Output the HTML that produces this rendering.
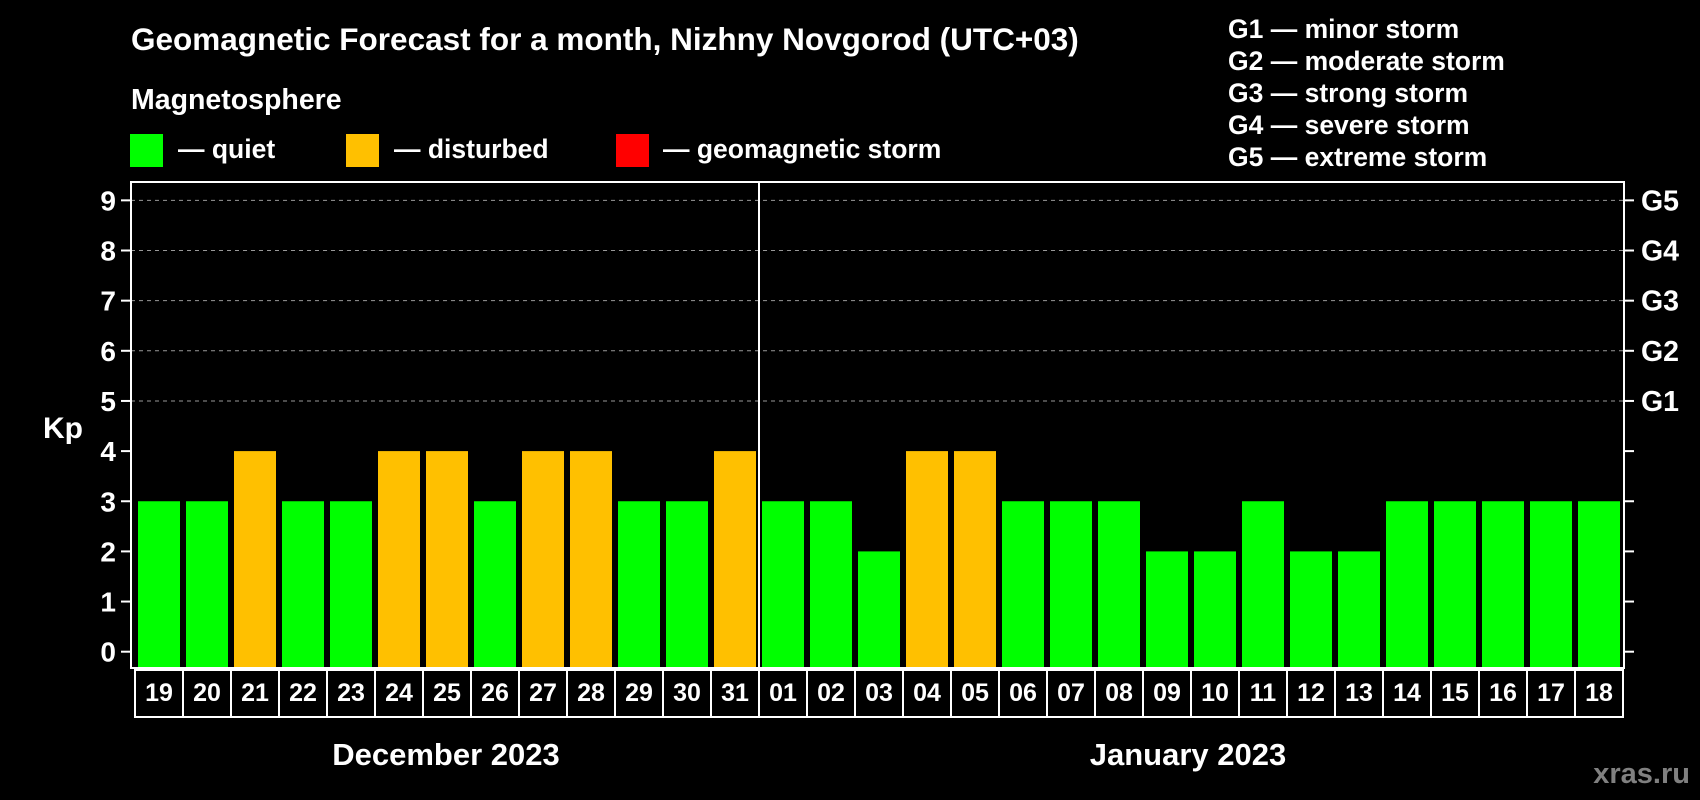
<!DOCTYPE html>
<html><head><meta charset="utf-8"><style>
body{margin:0;background:#000;}
svg{display:block;font-family:"Liberation Sans",Arial,sans-serif;font-weight:bold;}
</style></head><body>
<svg id="chart" width="1700" height="800" viewBox="0 0 1700 800">
<rect width="1700" height="800" fill="#000"/>
<text x="131" y="50" font-size="31.5" fill="#fff">Geomagnetic Forecast for a month, Nizhny Novgorod (UTC+03)</text>
<text x="131" y="109" font-size="28.5" fill="#fff">Magnetosphere</text>
<g><rect x="130" y="134" width="33" height="33" fill="#00ff00"/><text x="178" y="158" font-size="26.5" fill="#fff">— quiet</text></g>
<g><rect x="346" y="134" width="33" height="33" fill="#ffc000"/><text x="394" y="158" font-size="26.5" fill="#fff">— disturbed</text></g>
<g><rect x="616" y="134" width="33" height="33" fill="#ff0000"/><text x="663" y="158" font-size="26.5" fill="#fff">— geomagnetic storm</text></g>
<g font-size="26.5" fill="#fff">
<text x="1228" y="38">G1 — minor storm</text>
<text x="1228" y="70">G2 — moderate storm</text>
<text x="1228" y="102">G3 — strong storm</text>
<text x="1228" y="134">G4 — severe storm</text>
<text x="1228" y="166">G5 — extreme storm</text>
</g>
<text x="43" y="438" font-size="30" fill="#fff">Kp</text>
<g id="grid"></g><g id="bars"></g><g id="axes"></g>
<text x="446" y="765" font-size="31" fill="#fff" text-anchor="middle">December 2023</text>
<text x="1188" y="765" font-size="31" fill="#fff" text-anchor="middle">January 2023</text>
<text x="1690" y="783" font-size="29" fill="#808080" text-anchor="end">xras.ru</text>
</svg>
<script>
const days=["19","20","21","22","23","24","25","26","27","28","29","30","31","01","02","03","04","05","06","07","08","09","10","11","12","13","14","15","16","17","18"];
const kpValues=[3,3,4,3,3,4,4,3,4,4,3,3,4,3,3,2,4,4,3,3,3,2,2,3,2,2,3,3,3,3,3];
const yTicks=[0,1,2,3,4,5,6,7,8,9];
const gLabels=["G1","G2","G3","G4","G5"];
const NS="http://www.w3.org/2000/svg";
const X0=135,PITCH=48,Y0=651.7,UNIT=50.15,LEFT=131,RIGHT=1624,TOP=182,BOT=668;
const yS=v=>Y0-v*UNIT;
const xS=i=>X0+i*PITCH;
function mk(tag,attrs,parent){const e=document.createElementNS(NS,tag);for(const k in attrs)e.setAttribute(k,attrs[k]);parent.appendChild(e);return e;}
const grid=document.getElementById('grid'),bars=document.getElementById('bars'),axes=document.getElementById('axes');
yTicks.forEach(v=>{
  const y=yS(v);
  if(v>=5){const l=mk('line',{x1:LEFT,x2:RIGHT,y1:y,y2:y,stroke:'#999','stroke-dasharray':'4,4','stroke-width':1},grid);
  
  }
  const t1=mk('line',{x1:LEFT-10,x2:LEFT,y1:y,y2:y,stroke:'#fff','stroke-width':2},axes);
  
  
  const t2=mk('line',{x1:RIGHT,x2:RIGHT+10,y1:y,y2:y,stroke:'#fff','stroke-width':2},axes);
  
  
  const tx=mk('text',{x:116,y:y+10,'font-size':28,fill:'#fff','text-anchor':'end'},axes);
  tx.textContent=v;
  
  
  if(v>=5){const g=mk('text',{x:1641,y:y+10,'font-size':28.5,fill:'#fff'},axes);
  g.textContent=gLabels[v-5];
  
  }
});
kpValues.forEach((v,i)=>{
  const col=v>=5?'#ff0000':(v>=4?'#ffc000':'#00ff00');
  const r=mk('rect',{x:xS(i)+3,y:yS(v),width:42,height:BOT-yS(v),fill:col},bars);
  
  
  const c=mk('rect',{x:xS(i),y:BOT+2,width:PITCH,height:47,fill:'none',stroke:'#fff','stroke-width':2},axes);
  
  
  const t=mk('text',{x:xS(i)+PITCH/2,y:BOT+33,'font-size':25,fill:'#fff','text-anchor':'middle'},axes);
  t.textContent=days[i];
  
  
});
const box=mk('rect',{x:LEFT,y:TOP,width:RIGHT-LEFT,height:BOT-TOP,fill:'none',stroke:'#fff','stroke-width':2},axes);


const sep=mk('line',{x1:xS(13),x2:xS(13),y1:TOP,y2:BOT,stroke:'#fff','stroke-width':2},axes);


</script>
</body></html>
